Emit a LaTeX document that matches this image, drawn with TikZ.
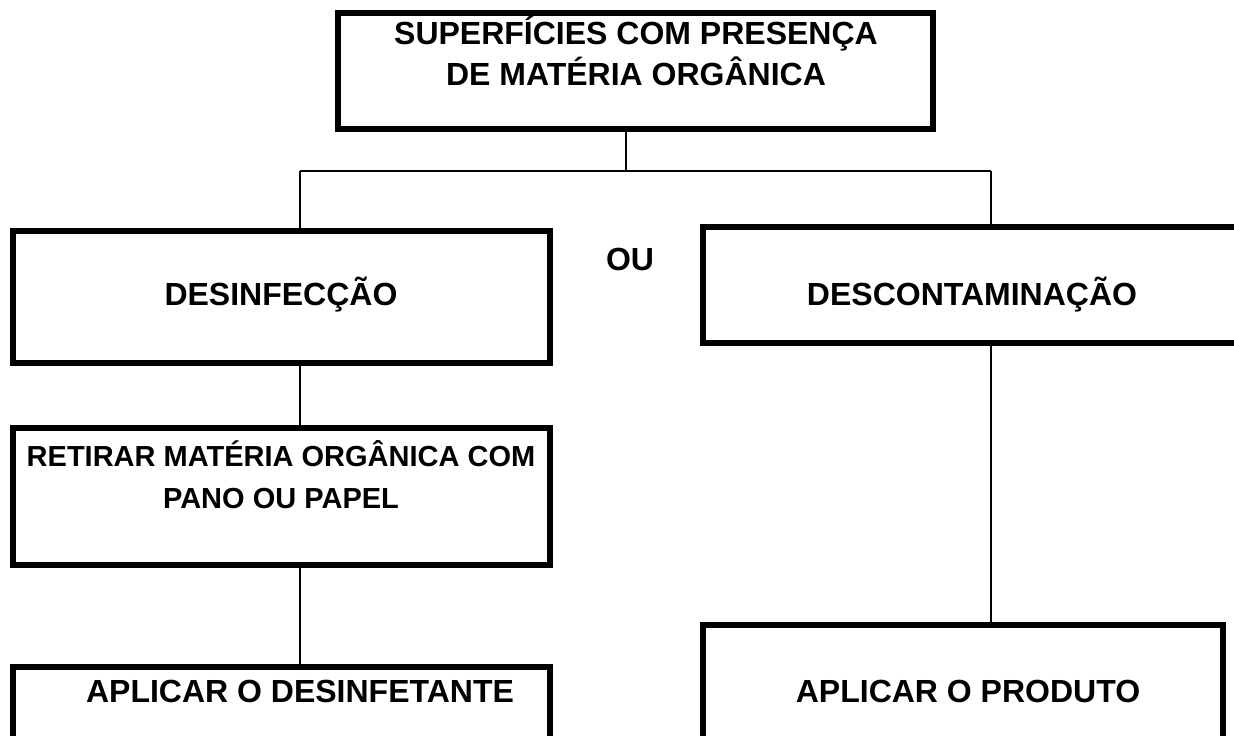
\documentclass[tikz,border=0pt]{standalone}
\usepackage{fontspec}
\setmainfont{Liberation Sans}
\begin{document}
\begin{tikzpicture}[x=1pt,y=-1pt,
  box/.style={draw=black,line width=6pt,inner sep=0pt,outer sep=0pt,fill=none},
  conn/.style={draw=black,line width=1.5pt},
  txt/.style={inner sep=0pt,anchor=base,font=\bfseries\fontsize{32}{38}\selectfont},
  smalltxt/.style={inner sep=0pt,anchor=base,font=\bfseries\fontsize{29}{35}\selectfont}]
\useasboundingbox (0,0) rectangle (1234,736);
\clip (0,0) rectangle (1234,736);
% boxes
\node[box,minimum width=595pt,minimum height=116pt] (top) at (635.5,71) {};
\node[box,minimum width=537pt,minimum height=132pt] (desinf) at (281.5,297) {};
\node[box,minimum width=554pt,minimum height=116pt] (descont) at (980,285) {};
\node[box,minimum width=537pt,minimum height=137pt] (retirar) at (281.5,496.5) {};
\node[box,minimum width=537pt,minimum height=130pt] (aplicd) at (281.5,732) {};
\node[box,minimum width=520pt,minimum height=172pt] (aplicp) at (963,711) {};
% texts
\node[txt] (t1) at (636,44) {SUPERFÍCIES COM PRESENÇA};
\node[txt] (t2) at (636,85) {DE MATÉRIA ORGÂNICA};
\node[txt] (t3) at (281,305) {DESINFECÇÃO};
\node[txt] (t4) at (972,305) {DESCONTAMINAÇÃO};
\node[txt] (ou) at (630,270) {OU};
\node[smalltxt] (t5) at (281,466) {RETIRAR MATÉRIA ORGÂNICA COM};
\node[smalltxt] (t6) at (281,508) {PANO OU PAPEL};
\node[txt] (t7) at (300,702) {APLICAR O DESINFETANTE};
\node[txt] (t8) at (968,702) {APLICAR O PRODUTO};
% connectors
\coordinate (j) at (626,171);
\coordinate (jl) at (300,171);
\coordinate (jr) at (991,171);
\draw[conn] (top.south -| j) -- (j);
\draw[conn] (jl) -- (jr);
\draw[conn] (jl) -- (jl |- desinf.north);
\draw[conn] (jr) -- (jr |- descont.north);
\draw[conn] (jl |- desinf.south) -- (jl |- retirar.north);
\draw[conn] (jl |- retirar.south) -- (jl |- aplicd.north);
\draw[conn] (jr |- descont.south) -- (jr |- aplicp.north);
\end{tikzpicture}
\end{document}
